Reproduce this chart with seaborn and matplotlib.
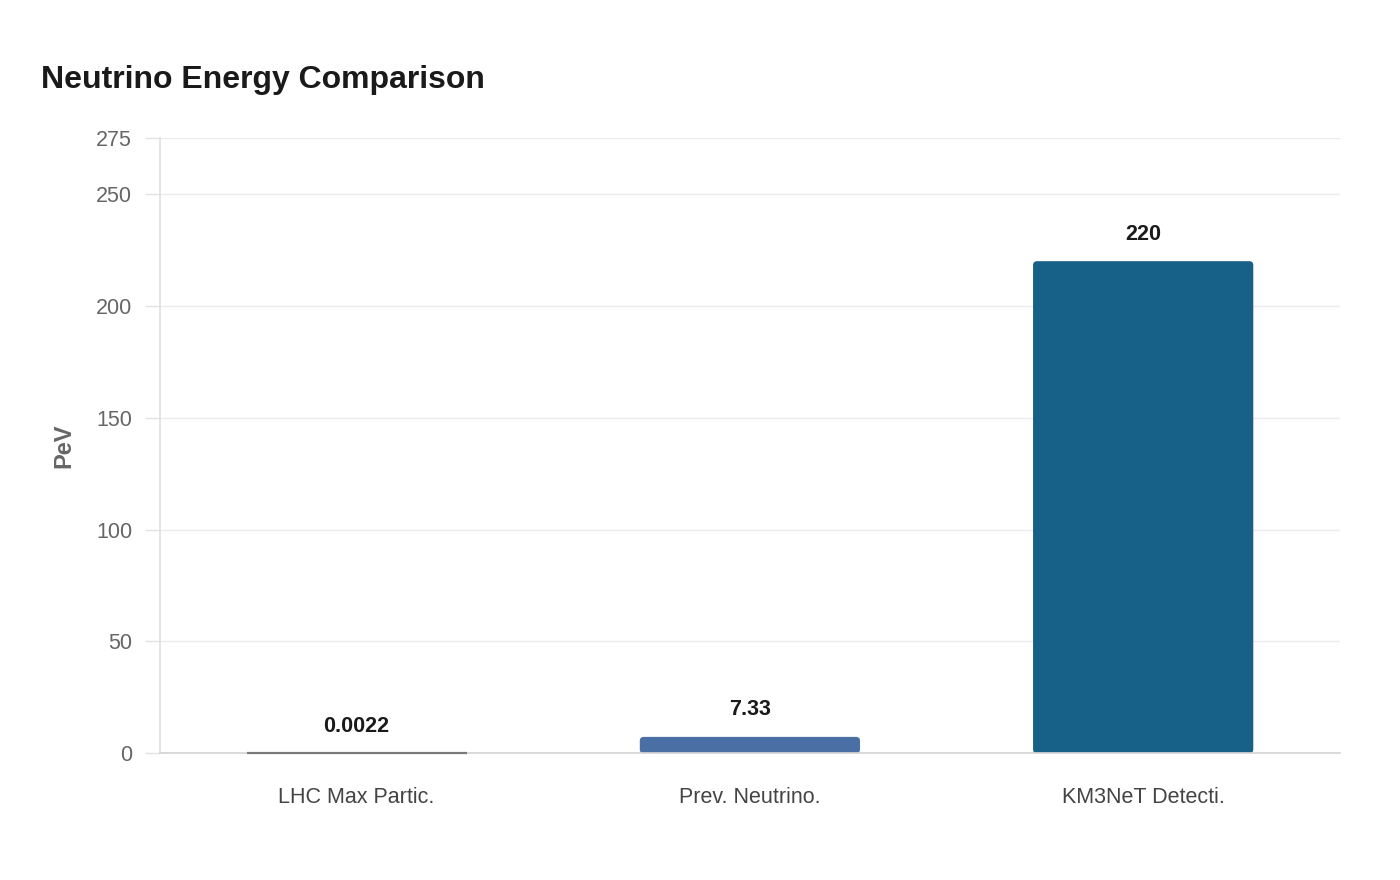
import numpy as np
import pandas as pd
import matplotlib as mpl
mpl.use('Agg')
import matplotlib.pyplot as plt
import seaborn as sns
from matplotlib.patches import FancyBboxPatch

categories = ["LHC Max Partic.", "Prev. Neutrino.", "KM3NeT Detecti."]
energy_pev = [0.0022, 7.33, 220]
value_labels = ["0.0022", "7.33", "220"]
bar_colors = ["#7a7a7a", "#4a6fa5", "#176189"]

df = pd.DataFrame({"source": categories, "energy": energy_pev})

sns.set_theme(style="whitegrid")
plt.rcParams['font.family'] = ['Liberation Sans', 'DejaVu Sans']

fig, ax = plt.subplots(figsize=(14, 8.8), dpi=100)
fig.subplots_adjust(left=0.1143, right=0.957, top=0.843, bottom=0.144)

sns.barplot(data=df, x="source", y="energy", hue="source", palette=bar_colors,
            width=0.56, legend=False, ax=ax, saturation=1)

# rounded tops (only where the bar is tall enough)
px_x = 3.0 / 1180
px_y = 275.0 / 615
for p, c in zip(list(ax.patches), bar_colors):
    x, w, h = p.get_x(), p.get_width(), p.get_height()
    if h / px_y > 8:
        p.remove()
        fb = FancyBboxPatch((x, 0), w, h, boxstyle="round,pad=0,rounding_size=%f" % (4 * px_x),
                            mutation_aspect=px_y / px_x, facecolor=c, edgecolor="none", zorder=2)
        ax.add_patch(fb)
    else:
        # tiny bar: keep a visible sliver
        p.set_edgecolor(c)
        p.set_linewidth(1.6)
        p.set_zorder(4)
        p.set_clip_on(False)

for i, (v, lab) in enumerate(zip(energy_pev, value_labels)):
    ax.annotate(lab, (i, v), xytext=(0, 12), textcoords="offset points",
                ha="center", va="bottom", fontsize=15.5, fontweight="bold", color="#1a1a1a")

ax.set_xlim(-0.5, 2.5)
ax.set_ylim(0, 275)
ax.set_yticks([0, 50, 100, 150, 200, 250, 275])
ax.grid(axis="x", visible=False)
ax.grid(axis="y", color="#ebebeb", linewidth=1)
ax.set_axisbelow(True)
for s in ["top", "right"]:
    ax.spines[s].set_visible(False)
ax.spines["left"].set_color("#e0e0e0")
ax.spines["bottom"].set_color("#d5d5d5")
ax.tick_params(axis="y", left=True, length=11, width=1, color="#e3e3e3",
               labelsize=15.5, labelcolor="#666666", pad=9)
ax.tick_params(axis="x", length=0, labelsize=15.5, labelcolor="#444444", pad=24)

ax.set_xlabel("")
ax.set_ylabel("PeV", fontsize=17, fontweight="bold", color="#666666", labelpad=15)
fig.text(0.029, 0.909, "Neutrino Energy Comparison", fontsize=23, fontweight="bold",
         color="#1a1a1a", ha="left", va="center")

plt.savefig("out.png", dpi=100)
